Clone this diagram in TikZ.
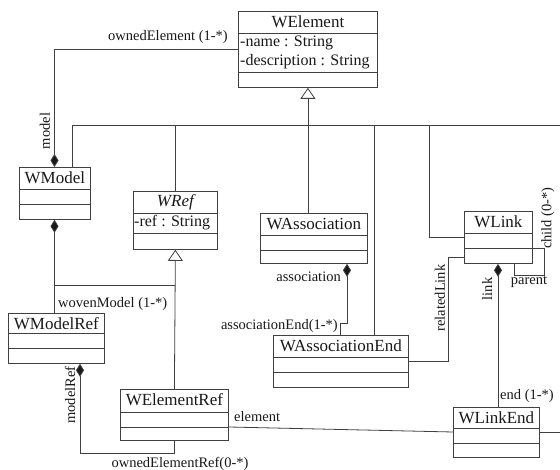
\documentclass[tikz,border=0pt]{standalone}
\usepackage{fontspec}
\setmainfont{Liberation Serif}
\usetikzlibrary{calc,arrows.meta}

\tikzset{
  ln/.style={draw=black!75, line width=0.8pt},
  cls/.style={ln, fill=white, inner sep=0pt, anchor=north west},
  ttl/.style={font=\fontsize{17}{19}\selectfont, text=black!90, inner sep=0pt},
  attr/.style={font=\fontsize{16}{18}\selectfont, text=black!90, inner sep=0pt, anchor=west},
  lbl/.style={font=\fontsize{14.5}{16}\selectfont, text=black!90, inner sep=0pt},
  gen/.style={ln, -{Triangle[open, width=15pt, length=11pt, fill=white]}},
  comp/.style={ln, {Diamond[width=8pt, length=13pt, fill=black!90]}-},
}

% class box: name, x, y, width, height, first separator, second separator, title
\newcommand\umlclass[8]{%
  \node[cls, minimum width=#4pt, minimum height=#5pt] (#1) at (#2,#3) {};
  \draw[ln] ($(#1.north west)+(0,#6)$) -- ($(#1.north east)+(0,#6)$);
  \draw[ln] ($(#1.north west)+(0,#7)$) -- ($(#1.north east)+(0,#7)$);
  \node[ttl] at ($(#1.north)+(0,11)$) {#8};
}

\begin{document}
\begin{tikzpicture}[x=1pt, y=-1pt]
\useasboundingbox[fill=white] (0,0) rectangle (560,470);

% classes
\umlclass{welement}{238}{11}{139}{76}{22}{61}{WElement}
\node[attr] at ($(welement.north west)+(2,32)$) {-name : String};
\node[attr] at ($(welement.north west)+(2,51)$) {-description : String};
\umlclass{wmodel}{19}{167}{71}{52}{22}{37}{WModel}
\umlclass{wref}{133}{191}{84}{58}{22}{42}{\itshape WRef}
\node[attr] at ($(wref.north west)+(1,32)$) {-ref : String};
\umlclass{wassoc}{260}{213}{107}{50}{22}{37}{WAssociation}
\umlclass{wlink}{464}{211}{68}{52}{22}{37}{WLink}
\umlclass{wmodelref}{8}{313}{96}{50}{20}{35}{WModelRef}
\umlclass{wassocend}{273}{335}{135}{52}{22}{37}{WAssociationEnd}
\umlclass{welementref}{120}{389}{108}{51}{23}{38}{WElementRef}
\umlclass{wlinkend}{453}{407}{86}{50}{21}{36}{WLinkEnd}

% inheritance bus below WElement
\coordinate (busW) at (72,125);
\coordinate (busE) at (560,125);
\coordinate (dAE) at (374,125);
\coordinate (dL) at (429,125);
\draw[ln] (busW) -- (busE);
\draw[gen] (welement.south |- busW) -- (welement.south);
\draw[ln] (welement.south |- busW) -- (welement.south |- wassoc.north);
\draw[ln] (busW) -- (busW |- wmodel.north);
\draw[ln] (wref.north |- busW) -- (wref.north);
\draw[ln] (dAE) -- (dAE |- wassocend.north);
\draw[ln] (dL) |- ($(wlink.north west)+(0,26)$);

% WElement -- WModel
\coordinate (mTop) at ($(wmodel.north west)+(35.5,0)$);
\coordinate (mBot) at ($(wmodel.south west)+(35.5,0)$);
\draw[comp] (mTop) |- ($(welement.north west)+(0,38)$);
\node[lbl] (lOwned) at (168,37) {ownedElement (1-*)};
\node[lbl, rotate=90] (lModel) at (45,131) {model};

% WModel -- WModelRef
\draw[comp] (mBot) -- (mBot |- wmodelref.north);
\node[lbl, anchor=west] (lWoven) at (58,304) {wovenModel (1-*)};

% WRef specialisations
\coordinate (jRef) at (175,285);
\draw[gen] (welementref.north) -- (wref.south);
\draw[ln] (jRef) -- (mBot |- jRef);

% WAssociation -- WAssociationEnd
\draw[comp] ($(wassoc.south west)+(87,0)$) -- ++(0,60) -| ($(wassocend.north west)+(67,0)$);
\node[lbl, anchor=east] (lAssoc) at (341,277) {association};
\node[lbl, anchor=east] (lAssocEnd) at (338,326) {associationEnd(1-*)};

% WLink -- WAssociationEnd
\draw[ln] ($(wlink.north west)+(0,46)$) -- ++(-16,0) |- ($(wassocend.north east)+(0,26)$);
\node[lbl, rotate=90] (lRelated) at (440,298) {relatedLink};

% WLink self association
\draw[ln] ($(wlink.north east)+(0,37)$) -- ++(12,0) -- ++(0,27) -| ($(wlink.south west)+(50,0)$);
\node[lbl, rotate=90] (lChild) at (548,218) {child (0-*)};
\node[lbl] (lParent) at (529,282) {parent};

% WLink -- WLinkEnd
\draw[comp] ($(wlink.south west)+(34,0)$) -- ($(wlinkend.north west)+(45,0)$);
\node[lbl, rotate=90] (lLink) at (487,289) {link};
\node[lbl, anchor=west] (lEnd) at (500,396) {end (1-*)};
\coordinate (offR) at (560,432);
\draw[ln] ($(wlinkend.north east)+(0,25)$) -- (offR);

% WElementRef -- WLinkEnd
\draw[ln] ($(welementref.north east)+(0,38)$) -- ($(wlinkend.north west)+(0,25)$);
\node[lbl, anchor=west] (lElement) at (234,417) {element};

% WModelRef -- WElementRef
\draw[comp] ($(wmodelref.south west)+(72,0)$) |- ($(welementref.south)+(0,13)$) -- (welementref.south);
\node[lbl, rotate=90] (lModelRef) at (70,395) {modelRef};
\node[lbl] (lOwnedRef) at (180,464) {ownedElementRef(0-*)};
\end{tikzpicture}
\end{document}
